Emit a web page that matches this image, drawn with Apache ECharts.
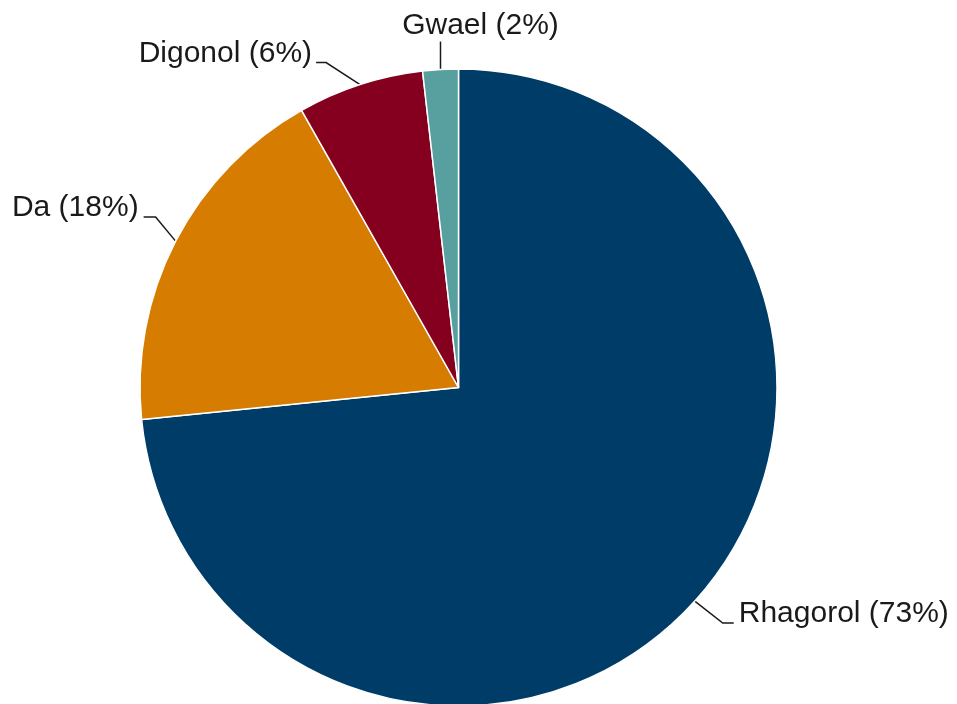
<!DOCTYPE html>
<html>
<head>
<meta charset="utf-8">
<script src="https://cdn.jsdelivr.net/npm/echarts@6/dist/echarts.min.js"></script>
<style>
html,body{margin:0;padding:0;background:#fff;}
#chart{width:957px;height:704px;}
</style>
</head>
<body>
<div id="chart"></div>
<script>
const categories = ['Rhagorol', 'Da', 'Digonol', 'Gwael'];
const values = [73.4, 18.4, 6.4, 1.8];
const colors = ['#003c68', '#d67c00', '#85001e', '#589f9f'];

const total = values.reduce((a, b) => a + b, 0);

// label-line elbow offsets (layout styling only)
const elbow = [
  { d1: [28, 22], d2: 11, gap: 5 },
  { d1: [-20, -24], d2: -12, gap: 5 },
  { d1: [-34, -22], d2: -10, gap: 4 },
  { d1: [0, -28], d2: 0, gap: 0 }
];

const chart = echarts.init(document.getElementById('chart'));
chart.setOption({
  animation: false,
  backgroundColor: '#ffffff',
  series: [{
    type: 'pie',
    center: [458.5, 387.5],
    radius: 318.5,
    startAngle: 90,
    clockwise: true,
    avoidLabelOverlap: false,
    data: categories.map((c, i) => ({ name: c, value: values[i], itemStyle: { color: colors[i] } })),
    itemStyle: { borderColor: '#ffffff', borderWidth: 1.5 },
    label: {
      show: true,
      position: 'outside',
      fontFamily: 'Liberation Sans, Arial, sans-serif',
      fontSize: 30,
      color: '#1a1a1a',
      formatter: p => p.name + ' (' + Math.round(p.value / total * 100) + '%)'
    },
    labelLine: {
      show: true,
      length: 30,
      length2: 12,
      lineStyle: { color: '#1a1a1a', width: 1.5 }
    },
    emphasis: { disabled: true },
    labelLayout: function (params) {
      const i = params.dataIndex;
      const e = elbow[i];
      const p0 = params.labelLinePoints[0];
      const p1 = [p0[0] + e.d1[0], p0[1] + e.d1[1]];
      const p2 = [p1[0] + e.d2, p1[1]];
      if (i === 3) {
        return {
          x: p1[0] + 40,
          y: p1[1] - 16,
          align: 'center',
          verticalAlign: 'middle',
          hideOverlap: false,
          labelLinePoints: [p0, p1, p1]
        };
      }
      const right = e.d2 > 0;
      return {
        x: p2[0] + (right ? e.gap : -e.gap),
        y: p2[1] - 9,
        align: right ? 'left' : 'right',
        verticalAlign: 'middle',
        hideOverlap: false,
        labelLinePoints: [p0, p1, p2]
      };
    }
  }]
});
</script>
</body>
</html>
